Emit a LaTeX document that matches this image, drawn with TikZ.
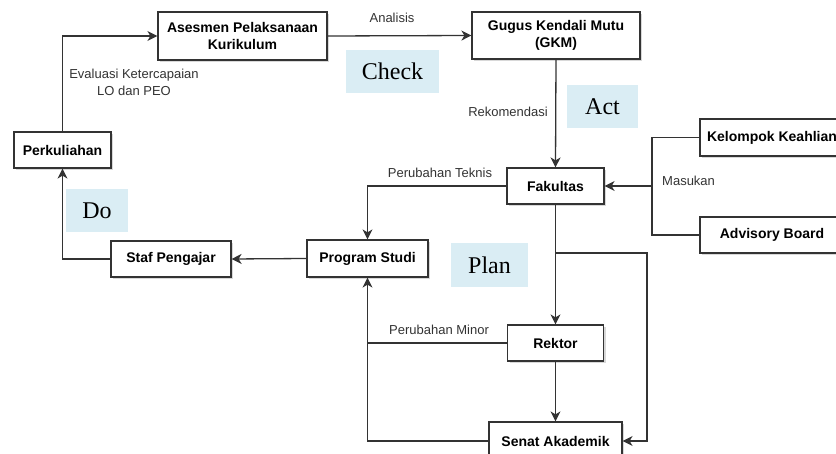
\documentclass[tikz,border=0pt]{standalone}
\usepackage{fontspec}
\setmainfont{Liberation Sans}
\newfontfamily\pdcafont{Liberation Serif}
\usetikzlibrary{arrows.meta,shadows}
\definecolor{linec}{HTML}{333333}
\definecolor{pdcabg}{HTML}{DAEDF4}
\tikzset{
  box/.style={draw=linec, line width=1.2pt, fill=white, text=black,
    font=\fontsize{14}{17}\selectfont\bfseries, align=center, inner sep=0pt,
    drop shadow={shadow xshift=2pt, shadow yshift=-2pt, opacity=0.3, fill=gray}},
  lbl/.style={font=\fontsize{13}{17}\selectfont, text=linec, inner sep=0pt, align=center},
  pdca/.style={fill=pdcabg, inner sep=0pt, text=black, font=\pdcafont\fontsize{24}{28}\selectfont},
  conn/.style={draw=linec, line width=1.3pt},
  arr/.style={conn, -{Stealth[length=10pt,width=10pt,inset=3pt]}},
}
\begin{document}
\begin{tikzpicture}[x=1pt,y=-1pt]
\clip (0,0) rectangle (836,454);
\fill[white] (0,0) rectangle (836,454);

% PDCA labels
\node[pdca, minimum width=93pt, minimum height=43pt] (check) at (392.5,71.5) {Check};
\node[pdca, minimum width=71pt, minimum height=43pt] (act) at (602.5,106.5) {Act};
\node[pdca, minimum width=62pt, minimum height=43pt] (do) at (97,210.5) {Do};
\node[pdca, minimum width=77pt, minimum height=44pt] (plan) at (489.5,265) {Plan};

% boxes
\node[box, minimum width=169pt, minimum height=48pt] (ase) at (242.5,36) {Asesmen Pelaksanaan\\Kurikulum};
\node[box, minimum width=168pt, minimum height=47pt] (gkm) at (556,35.5) {Gugus Kendali Mutu\\(GKM)};
\node[box, minimum width=97pt, minimum height=36pt] (perk) at (62.5,150) {Perkuliahan};
\node[box, minimum width=120pt, minimum height=36pt] (staf) at (171,259) {Staf Pengajar};
\node[box, minimum width=121pt, minimum height=37pt] (prodi) at (367.5,258.5) {Program Studi};
\node[box, minimum width=97pt, minimum height=36pt] (fak) at (555.5,186) {Fakultas};
\node[box, minimum width=144pt, minimum height=37pt] (kk) at (772,137.5) {Kelompok Keahlian};
\node[box, minimum width=144pt, minimum height=36pt] (ab) at (772,235) {Advisory Board};
\node[box, minimum width=96pt, minimum height=36pt] (rek) at (555.5,343) {Rektor};
\node[box, minimum width=133pt, minimum height=38pt] (sen) at (555.5,441) {Senat Akademik};

% connectors
\draw[arr] (perk.north) |- (ase.west);
\draw[arr] (ase.east) -- (gkm.west);
\draw[arr] (gkm.south) -- (fak.north);
\coordinate (mj) at (652,186);
\draw[conn] (kk.west) -| (mj) |- (ab.west);
\draw[arr] (mj) -- (fak.east);
\draw[arr] (fak.west) -| (prodi.north);
\draw[arr] (prodi.west) -- (staf.east);
\draw[arr] (staf.west) -| (perk.south);
\draw[arr] (fak.south) -- (rek.north);
\coordinate (bj) at (555.5,253);
\coordinate (bc) at (647,253);
\draw[arr] (bj) -- (bc) |- (sen.east);
\draw[arr] (rek.south) -- (sen.north);
\draw[conn] (rek.west) -- (rek.west -| prodi.south);
\draw[arr] (sen.west) -| (prodi.south);

% edge labels
\node[lbl] (lanalisis) at (392,18) {Analisis};
\node[lbl] (leval) at (134,82.5) {Evaluasi Ketercapaian\\LO dan PEO};
\node[lbl, anchor=east] (lrek) at (548,112) {Rekomendasi};
\node[lbl, anchor=west] (lmas) at (662,181) {Masukan};
\node[lbl] (ltek) at (440,173) {Perubahan Teknis};
\node[lbl] (lmin) at (439,330) {Perubahan Minor};
\end{tikzpicture}
\end{document}
